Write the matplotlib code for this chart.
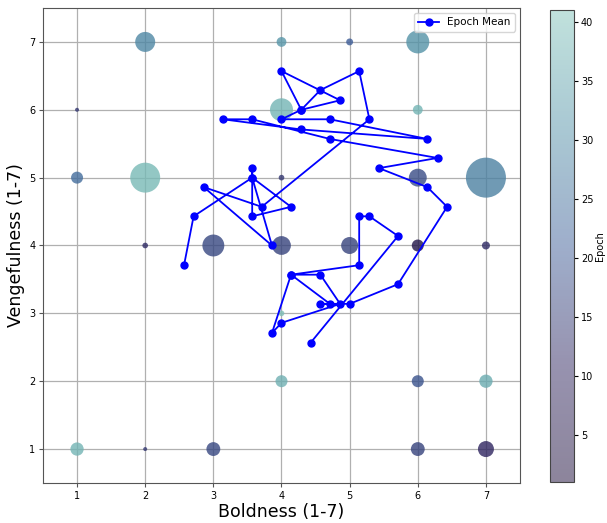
import matplotlib
matplotlib.use("Agg")
import matplotlib.pyplot as plt
import numpy as np
from matplotlib.colors import LinearSegmentedColormap, ListedColormap, Normalize
from matplotlib.cm import ScalarMappable

# Bubble data: (boldness, vengefulness) combos, count, mean epoch
bub_x = [2, 4, 5, 6, 1, 4, 6, 1, 2, 4, 6, 7, 2, 3, 4, 5, 6, 7, 4, 4, 6, 7, 1, 2, 3, 6, 7]
bub_y = [7, 7, 7, 7, 6, 6, 6, 5, 5, 5, 5, 5, 4, 4, 4, 4, 4, 4, 3, 2, 2, 2, 1, 1, 1, 1, 1]
bub_count = [25, 6, 3, 33, 1, 33, 6, 9, 56, 2, 20, 100, 2, 30, 22, 18, 9, 4, 2, 9, 9, 11, 11, 1, 12, 12, 16]
bub_epoch = [29, 32, 21, 31, 14, 38, 38, 24, 39, 14, 18, 28, 12, 17, 16, 16, 5, 12, 40, 37, 19, 36, 38, 14, 17, 16, 11]

# Epoch mean trajectory
mean_bold = [2.57, 2.71, 3.57, 3.57, 3.57, 4.14, 3.57, 3.86, 2.86, 3.71,
             5.29, 5.14, 4.57, 4.29, 4.86, 4.00, 4.29, 4.00,
             4.71, 6.14, 4.29, 3.14, 3.57, 4.71,
             6.29, 5.43, 6.14, 6.43, 5.71, 5.00,
             4.57, 4.71, 4.14, 3.86, 4.00, 4.86, 4.57, 4.14, 5.14, 5.14, 5.29, 5.71, 4.43]
mean_veng = [3.71, 4.43, 5.00, 5.14, 4.43, 4.57, 5.00, 4.00, 4.86, 4.57,
             5.86, 6.57, 6.29, 6.00, 6.14, 6.57, 6.00, 5.86,
             5.86, 5.57, 5.71, 5.86, 5.86, 5.57,
             5.29, 5.14, 4.86, 4.57, 3.43, 3.14,
             3.14, 3.14, 3.57, 2.71, 2.86, 3.14, 3.57, 3.57, 3.71, 4.43, 4.43, 4.14, 2.57]

xticks = [1, 2, 3, 4, 5, 6, 7]
yticks = [1, 2, 3, 4, 5, 6, 7]
cbar_ticks = [5, 10, 15, 20, 25, 30, 35, 40]

cmap = LinearSegmentedColormap.from_list(
    "epoch", ["#1a0a38", "#2f2660", "#3d5d97", "#5391a7", "#81c3b9"])
norm = Normalize(vmin=1, vmax=41)

# colorbar shows the colormap at alpha 0.5 over white
_base = cmap(np.linspace(0, 1, 256))[:, :3]
cbar_cmap = ListedColormap(0.5 * _base + 0.5)

fig = plt.figure(figsize=(6.07, 5.23), dpi=100)
ax = fig.add_axes([0.0708, 0.0765, 0.7859, 0.9082])

ax.grid(True, color="#b0b0b0", linewidth=0.9, zorder=0)
ax.set_axisbelow(True)

ax.scatter(bub_x, bub_y, s=np.array(bub_count) * 8.3, c=bub_epoch, cmap=cmap, norm=norm,
           alpha=0.8, edgecolors="none", zorder=2)

ax.plot(mean_bold, mean_veng, "-o", color="blue", linewidth=1.3, markersize=5,
        label="Epoch Mean", zorder=3)

ax.set_xlim(0.5, 7.5)
ax.set_ylim(0.5, 7.5)
ax.set_xticks(xticks)
ax.set_yticks(yticks)
ax.tick_params(labelsize=7, length=3, pad=2.5, color="#555555")
ax.set_xlabel("Boldness (1-7)", fontsize=12.5, labelpad=2)
ax.set_ylabel("Vengefulness (1-7)", fontsize=12.5, labelpad=3)
for sp in ax.spines.values():
    sp.set_color("#555555")

ax.legend(loc="upper right", fontsize=7.5, framealpha=0.8)

cax = fig.add_axes([0.906, 0.0784, 0.0395, 0.903])
sm = ScalarMappable(norm=norm, cmap=cbar_cmap)
cb = fig.colorbar(sm, cax=cax, ticks=cbar_ticks)
cb.ax.tick_params(labelsize=7, length=3, pad=2)
cb.set_label("Epoch", fontsize=7, labelpad=1)
cb.outline.set_edgecolor("#444444")

fig.savefig("out.png", dpi=100)
